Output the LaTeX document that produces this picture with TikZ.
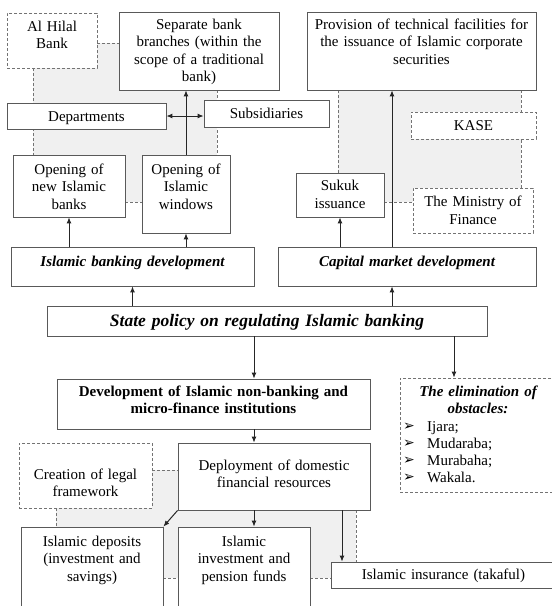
\documentclass[tikz,border=0pt]{standalone}
\usepackage{fontspec}
\setmainfont{Liberation Serif}
\newfontfamily\symfont{DejaVu Sans}
\usetikzlibrary{arrows.meta}
\pgfdeclarelayer{background}
\pgfsetlayers{background,main}
\newcommand{\bul}{\makebox[24pt][l]{\raisebox{0.5pt}{\symfont\fontsize{14pt}{14pt}\selectfont ➢}}}

\begin{document}
\begin{tikzpicture}[x=1pt,y=-1pt,
box/.style={draw=black!65,fill=white,line width=0.8pt,anchor=base,align=center,
  inner xsep=0pt,inner ysep=0pt,font=\fontsize{15pt}{17.5pt}\selectfont},
dbox/.style={box,draw=black!55,dash pattern=on 3pt off 2pt},
bi/.style={font=\fontsize{15pt}{17.5pt}\selectfont\bfseries\itshape},
arr/.style={-{Latex[length=6pt,width=5pt]},line width=1pt,black!85},
arrtwo/.style={{Latex[length=6pt,width=5pt]}-{Latex[length=6pt,width=5pt]},line width=1pt,black!85},
dline/.style={black!55,line width=0.8pt,dash pattern=on 3pt off 2pt},
shade/.style={fill=black!6}]
\useasboundingbox (0,0) rectangle (552,606);
\clip (0,0) rectangle (552,606);

%Al Hilal Bank
\node[dbox,minimum width=90pt,text width=84pt,text height=18pt,text depth=37pt,
] (alhilal) at (52,31){Al Hilal\\Bank};

%Separate branches
\node[box,minimum width=160pt,text width=154pt,text height=17pt,text depth=61pt,
] (sep) at (199,29){Separate bank\\branches (within the\\scope of a traditional\\bank)};

%Technical facilities
\node[box,minimum width=229pt,text width=223pt,text height=17pt,text depth=61pt,
] (prov) at (421.5,29){Provision of technical facilities for\\the issuance of Islamic corporate\\securities};

%Departments
\node[box,minimum width=159pt,text width=153pt,text height=18pt,text depth=8pt,
] (dep) at (86.5,121){Departments};

%Subsidiaries
\node[box,minimum width=125pt,text width=119pt,text height=18pt,text depth=9pt,
] (subs) at (266.5,118){Subsidiaries};

%KASE
\node[dbox,minimum width=125pt,text width=119pt,text height=18pt,text depth=9pt,
] (kase) at (473.5,130){KASE};

%New banks
\node[box,minimum width=112pt,text width=106pt,text height=19pt,text depth=43pt,
] (banks) at (69,174){Opening of\\new Islamic\\banks};

%Windows
\node[box,minimum width=88pt,text width=84pt,text height=19pt,text depth=59pt,
] (windows) at (186,174){Opening of\\Islamic\\windows};

%Sukuk
\node[box,minimum width=88pt,text width=84pt,text height=17.5pt,text depth=26.5pt,
] (sukuk) at (340,190.5){Sukuk\\issuance};

%Ministry
\node[dbox,minimum width=120pt,text width=114pt,text height=18.5pt,text depth=26.5pt,
] (ministry) at (473,206.5){The Ministry of\\Finance};

%Banking development
\node[box,bi,minimum width=243pt,text width=237pt,text height=19pt,text depth=20pt,
] (ibd) at (132.5,266){Islamic banking development};

%Capital market
\node[box,bi,minimum width=258pt,text width=252pt,text height=19pt,text depth=20pt,
] (capital) at (407,266){Capital market development};

%State policy
\node[box,minimum width=440pt,text width=434pt,text height=20pt,text depth=10pt,
font=\fontsize{17.5pt}{20pt}\selectfont\bfseries\itshape
] (state) at (267,326){State policy on regulating Islamic banking};

%Non-banking
\node[box,minimum width=313pt,text width=307pt,text height=17pt,text depth=33pt,
font=\fontsize{15pt}{17.5pt}\selectfont\bfseries
] (devel) at (213.5,396){Development of Islamic non-banking and\\micro-finance institutions};

%Obstacles
\node[dbox,bi,minimum width=156pt,text width=150pt,text height=18pt,text depth=96pt,
] (elim) at (478,396){The elimination of\\obstacles:};
\node[anchor=base west,align=left,text width=140pt,inner sep=0pt,
font=\fontsize{15pt}{17pt}\selectfont
] (obst) at (403,431){\bul Ijara;\\\bul Mudaraba;\\\bul Murabaha;\\\bul Wakala.};

%Legal framework
\node[dbox,minimum width=133pt,text width=127pt,text height=36pt,text depth=29pt,
] (creation) at (85.5,479){Creation of legal\\framework};

%Domestic resources
\node[box,minimum width=192pt,text width=186pt,text height=27pt,text depth=40pt,
] (deploy) at (274,470){Deployment of domestic\\financial resources};

%Deposits
\node[box,minimum width=142pt,text width=136pt,text height=19pt,text depth=94pt,
] (deposits) at (92,546){Islamic deposits\\(investment and\\savings)};

%Funds
\node[box,minimum width=132pt,text width=126pt,text height=19pt,text depth=94pt,
] (invest) at (244,546){Islamic\\investment and\\pension funds};

%Takaful
\node[box,minimum width=225pt,text width=219pt,text height=17pt,text depth=9pt,
] (insur) at (443.5,579){Islamic insurance (takaful)};

\coordinate (lspine) at (254,0);
\coordinate (rspine) at (392,0);
\coordinate (espine) at (454,0);
\coordinate (tspine) at (342,0);

\draw[arr] (state.north -| ibd.south) -- (ibd.south);
\draw[arr] (state.north -| rspine) -- (capital.south -| rspine);
\draw[arr] (ibd.north -| banks.south) -- (banks.south);
\draw[arr] (ibd.north -| windows.south) -- (windows.south);
\draw[arr] (capital.north -| sukuk.south) -- (sukuk.south);
\draw[arr] (capital.north -| rspine) -- (prov.south -| rspine);
\draw[arr] (windows.north) -- (windows.north |- sep.south);
\draw[arrtwo] (dep.east) -- (dep.east -| subs.west);
\draw[arr] (state.south -| lspine) -- (devel.north -| lspine);
\draw[arr] (state.south -| espine) -- (elim.north -| espine);
\draw[arr] (devel.south -| lspine) -- (deploy.north -| lspine);
\draw[arr] (deploy.south -| lspine) -- (invest.north -| lspine);
\draw[arr] (deploy.south west) -- (deposits.north east);
\draw[arr] (deploy.south -| tspine) -- (insur.north -| tspine);

%%%%%%%%%%%%%%%%%Shaded areas%%%%%%%%%%%%%%
\begin{pgfonlayer}{background}
\coordinate (g1nw) at (33,43);
\coordinate (g1se) at (217,202);
\fill[shade] (g1nw) rectangle (g1se);
\draw[dline] (alhilal.east |- g1nw) -- (sep.west |- g1nw);
\draw[dline] (g1nw |- alhilal.south) -- (g1nw |- banks.north);
\draw[dline] (g1se |- sep.south) -- (g1se |- windows.north);
\draw[dline] (banks.east |- g1se) -- (windows.west |- g1se);

\coordinate (g2nw) at (338,90);
\coordinate (g2se) at (521,202);
\fill[shade] (g2nw) rectangle (g2se);
\draw[dline] (g2nw |- prov.south) -- (g2nw |- sukuk.north);
\draw[dline] (g2se |- prov.south) -- (g2se |- ministry.north);
\draw[dline] (sukuk.east |- g2se) -- (ministry.west |- g2se);

\coordinate (g3nw) at (56,470);
\coordinate (g3se) at (356,578);
\fill[shade] (g3nw) rectangle (g3se);
\draw[dline] (creation.east |- g3nw) -- (deploy.west |- g3nw);
\draw[dline] (g3nw |- creation.south) -- (g3nw |- deposits.north);
\draw[dline] (g3se |- deploy.south) -- (g3se |- insur.north);
\draw[dline] (deposits.east |- g3se) -- (invest.west |- g3se);
\draw[dline] (invest.east |- g3se) -- (insur.west |- g3se);
\end{pgfonlayer}

\end{tikzpicture}
\end{document}
